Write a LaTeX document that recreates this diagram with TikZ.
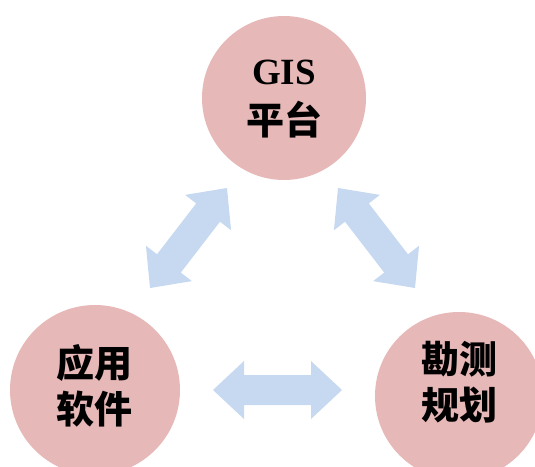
\documentclass[tikz,border=0pt]{standalone}
\usepackage{fontspec}
\setmainfont{Liberation Serif}
\newfontfamily\cjkfont{Noto Sans CJK SC}
\usetikzlibrary{calc}
\definecolor{circfill}{HTML}{E6B8B7}
\definecolor{arrfill}{HTML}{C6D9F0}
\tikzset{
  disc/.style={circle, fill=circfill, draw=none, inner sep=0pt},
  cjktext/.style={align=center, font=\cjkfont\bfseries\fontsize{38}{46}\selectfont, inner sep=0pt},
  arrowfill/.style={fill=arrfill, draw=none}
}
\newcommand\dblarr[2]{%
  \fill[arrowfill] (#1)
    -- ($(#1)!31pt!(#2)!29pt!90:(#2)$)
    -- ($(#1)!31pt!(#2)!15pt!90:(#2)$)
    -- ($(#2)!31pt!(#1)!15pt!-90:(#1)$)
    -- ($(#2)!31pt!(#1)!29pt!-90:(#1)$)
    -- (#2)
    -- ($(#2)!31pt!(#1)!29pt!90:(#1)$)
    -- ($(#2)!31pt!(#1)!15pt!90:(#1)$)
    -- ($(#1)!31pt!(#2)!15pt!-90:(#2)$)
    -- ($(#1)!31pt!(#2)!29pt!-90:(#2)$)
    -- cycle;}
\begin{document}
\begin{tikzpicture}[x=1pt,y=-1pt]
\useasboundingbox (0,0) rectangle (535,466);
\clip (0,0) rectangle (535,466);
% circles
\node[disc, minimum size=164pt] (gis) at (284,98) {};
\node[disc, minimum size=170pt] (app) at (95,390) {};
\node[disc, minimum size=168pt] (svy) at (459,396) {};
% texts
\node[align=center, inner sep=0pt, font=\bfseries\fontsize{37}{50}\selectfont] (gist) at (284,99)
  {GIS\\{\cjkfont\fontsize{38}{50}\selectfont 平台}};
\node[cjktext] (appt) at (94,386) {应用\\软件};
\node[cjktext] (svyt) at (459,382) {勘测\\规划};
% arrow end points
\coordinate (l1) at (150,288);
\coordinate (l2) at (227,188);
\coordinate (r1) at (338,188);
\coordinate (r2) at (415,288);
\coordinate (h1) at (213,390);
\coordinate (h2) at (342,390);
\dblarr{l1}{l2}
\dblarr{r1}{r2}
\dblarr{h1}{h2}
\end{tikzpicture}
\end{document}
